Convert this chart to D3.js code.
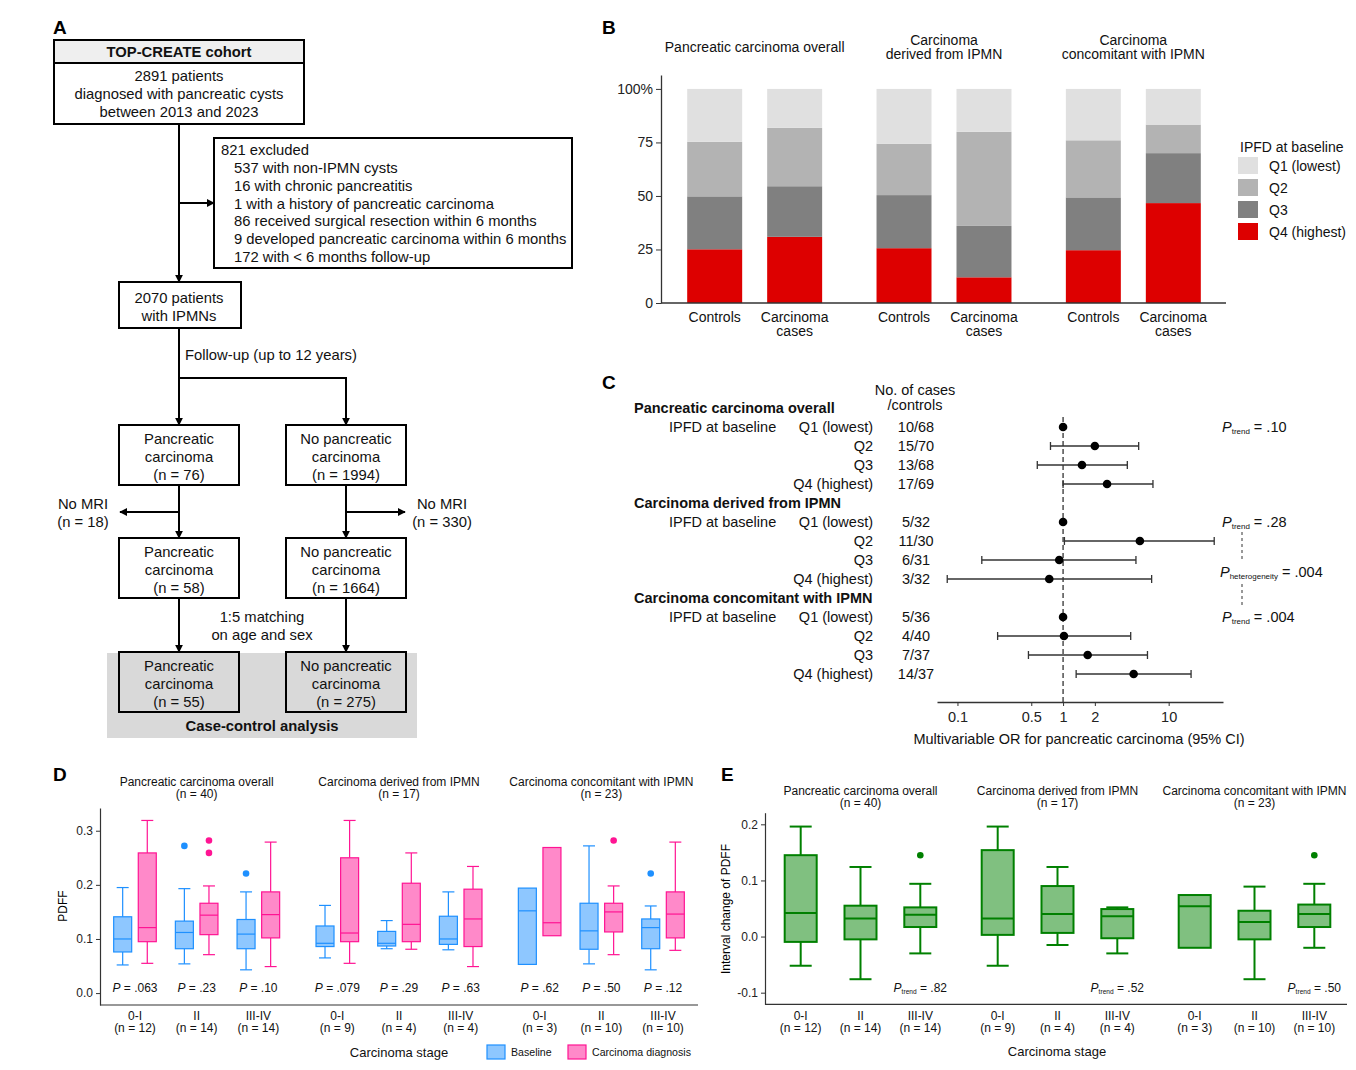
<!DOCTYPE html>
<html lang="en">
<head>
<meta charset="utf-8">
<title>IPFD and pancreatic carcinoma</title>
<script src="https://cdnjs.cloudflare.com/ajax/libs/d3/7.8.5/d3.min.js"></script>
<style>
  body { margin: 0; background: #fff; }
  svg { display: block; font-family: "Liberation Sans", Arial, Helvetica, sans-serif; }
  .axis text { fill: #222; }
  .axis path, .axis line { stroke: #333; }
</style>
</head>
<body>
<svg id="fig" width="1356" height="1070"></svg>
<script>
// ---------- Panel A: flowchart text ----------
const cohortTitle = "TOP-CREATE cohort";
const cohortText = ["2891 patients", "diagnosed with pancreatic cysts", "between 2013 and 2023"];
const excludedTitle = "821 excluded";
const excludedReasons = [
    "537 with non-IPMN cysts",
    "16 with chronic pancreatitis",
    "1 with a history of pancreatic carcinoma",
    "86 received surgical resection within 6 months",
    "9 developed pancreatic carcinoma within 6 months",
    "172 with < 6 months follow-up"
];
const ipmnText = ["2070 patients", "with IPMNs"];
const caseN = [76, 58, 55];
const controlN = [1994, 1664, 275];
const noMriN = [18, 330];

// ---------- Panel B: IPFD quartile counts per bar ----------
const bFacets = ["Pancreatic carcinoma overall", "Carcinoma|derived from IPMN", "Carcinoma|concomitant with IPMN"];
const bGroups = ["Controls", "Carcinoma|cases"];
const quartiles = ["Q1 (lowest)", "Q2", "Q3", "Q4 (highest)"];
const quartileColors = ["#e0e0e0", "#b3b3b3", "#808080", "#dd0000"];
const q1Counts = [68, 10, 32, 5, 36, 5];
const q2Counts = [70, 15, 30, 11, 40, 4];
const q3Counts = [68, 13, 31, 6, 37, 7];
const q4Counts = [69, 17, 32, 3, 37, 14];

// ---------- Panel C: forest plot ----------
const cGroups = ["Pancreatic carcinoma overall", "Carcinoma derived from IPMN", "Carcinoma concomitant with IPMN"];
const cCases = ["10/68", "15/70", "13/68", "17/69", "5/32", "11/30", "6/31", "3/32", "5/36", "4/40", "7/37", "14/37"];
const cOR    = [1, 2.0, 1.51, 2.61, 1, 5.34, 0.92, 0.74, 1, 1.02, 1.71, 4.66];
const cLower = [null, 0.76, 0.57, 1.0, null, 1.03, 0.17, 0.08, null, 0.24, 0.47, 1.33];
const cUpper = [null, 5.2, 4.06, 7.1, null, 27, 4.9, 6.9, null, 4.37, 6.3, 16.3];
const cPtrend = [".10", ".28", ".004"];
const cPhet = ".004";
const cTicks = [0.1, 0.5, 1, 2, 10];

// ---------- Panel D: PDFF by stage ----------
const dFacets = ["Pancreatic carcinoma overall", "Carcinoma derived from IPMN", "Carcinoma concomitant with IPMN"];
const dFacetN = [40, 17, 23];
const stages = ["0-I", "II", "III-IV"];
const stageN = [12, 14, 14, 9, 4, 4, 3, 10, 10];
const baseLow  = [0.052, 0.054, 0.043, 0.065, 0.082, 0.080, 0.053, 0.054, 0.043];
const baseQ1   = [0.076, 0.082, 0.082, 0.086, 0.087, 0.090, 0.053, 0.081, 0.082];
const baseMed  = [0.100, 0.112, 0.109, 0.092, 0.092, 0.100, 0.152, 0.115, 0.121];
const baseQ3   = [0.141, 0.133, 0.136, 0.124, 0.114, 0.142, 0.194, 0.166, 0.137];
const baseHigh = [0.195, 0.193, 0.187, 0.162, 0.134, 0.187, 0.194, 0.272, 0.161];
const baseOut  = [[], [0.272], [0.221], [], [], [], [], [], [0.221]];
const diagLow  = [0.055, 0.071, 0.049, 0.055, 0.081, 0.049, 0.106, 0.071, 0.079];
const diagQ1   = [0.095, 0.108, 0.102, 0.095, 0.095, 0.086, 0.106, 0.113, 0.102];
const diagMed  = [0.121, 0.144, 0.145, 0.111, 0.127, 0.137, 0.130, 0.150, 0.146];
const diagQ3   = [0.259, 0.166, 0.187, 0.250, 0.203, 0.192, 0.269, 0.166, 0.187];
const diagHigh = [0.319, 0.198, 0.279, 0.319, 0.259, 0.234, 0.269, 0.198, 0.279];
const diagOut  = [[], [0.282, 0.259], [], [], [], [], [], [0.282], []];
const dP = [".063", ".23", ".10", ".079", ".29", ".63", ".62", ".50", ".12"];
const dTicks = [0.0, 0.1, 0.2, 0.3];

// ---------- Panel E: interval change of PDFF ----------
const eLow  = [-0.052, -0.076, -0.030, -0.052, -0.015, -0.030, -0.020, -0.076, -0.020];
const eQ1   = [-0.0095, -0.005, 0.017, 0.003, 0.0065, -0.003, -0.020, -0.005, 0.017];
const eMed  = [0.042, 0.032, 0.039, 0.032, 0.040, 0.036, 0.054, 0.026, 0.040];
const eQ3   = [0.145, 0.055, 0.052, 0.154, 0.090, 0.049, 0.074, 0.046, 0.057];
const eHigh = [0.196, 0.124, 0.094, 0.196, 0.124, 0.052, 0.074, 0.089, 0.094];
const eOut  = [[], [], [0.145], [], [], [], [], [], [0.145]];
const ePtrend = [".82", ".52", ".50"];
const eTicks = [-0.1, 0.0, 0.1, 0.2];

const svg = d3.select('#fig');
svg.append('rect').attr('width', 1356).attr('height', 1070).attr('fill', '#fff');

// text helper: "|" splits lines
function addText(g, x, y, str, opts = {}) {
    const size = opts.size || 13;
    const lh = opts.lineHeight || size * 1.1;
    const parts = str.split('|');
    const t = g.append('text')
        .attr('x', x).attr('y', y)
        .attr('font-size', size)
        .attr('text-anchor', opts.anchor || 'middle')
        .attr('dominant-baseline', 'central')
        .attr('font-weight', opts.weight || 'normal')
        .attr('fill', opts.fill || '#111');
    parts.forEach((p, i) => {
        t.append('tspan').attr('x', x).attr('dy', i === 0 ? 0 : lh).text(p);
    });
    return t;
}

function pLabel(g, x, y, sub, val, size, anchor) {
    const t = g.append('text')
        .attr('x', x).attr('y', y)
        .attr('font-size', size)
        .attr('text-anchor', anchor || 'start')
        .attr('dominant-baseline', 'central')
        .attr('fill', '#111');
    t.append('tspan').attr('font-style', 'italic').text('P');
    if (sub) {
        t.append('tspan').attr('font-size', size * 0.55).attr('dy', size * 0.25).text(sub);
        t.append('tspan').attr('dy', -size * 0.25).text(' = ' + val);
    } else {
        t.append('tspan').text(' = ' + val);
    }
}

function panelLetter(x, y, s) {
    svg.append('text').attr('x', x).attr('y', y).attr('font-size', 19)
        .attr('font-weight', 'bold').text(s);
}

const hyphenFmt = d => d3.format('.1f')(d).replace('\u2212', '-');

// ================= Panel A =================
(function drawFlow() {
    const g = svg.append('g');
    svg.append('defs').append('marker')
        .attr('id', 'arr').attr('viewBox', '0 0 10 10')
        .attr('refX', 9).attr('refY', 5)
        .attr('markerUnits', 'userSpaceOnUse')
        .attr('markerWidth', 8).attr('markerHeight', 8)
        .attr('orient', 'auto')
        .append('path').attr('d', 'M0,0 L10,5 L0,10 Z').attr('fill', '#000');

    const fs = 14.8;
    const box = (x, y, w, h, fill) => g.append('rect')
        .attr('x', x).attr('y', y).attr('width', w).attr('height', h)
        .attr('fill', fill || '#fff').attr('stroke', '#000').attr('stroke-width', 2);
    const line = (pts, arrow) => g.append('path')
        .attr('d', d3.line()(pts)).attr('fill', 'none')
        .attr('stroke', '#000').attr('stroke-width', 2)
        .attr('marker-end', arrow ? 'url(#arr)' : null);

    const L = 179, R = 346;

    // gray case-control background
    g.append('rect').attr('x', 107).attr('y', 653).attr('width', 310).attr('height', 85).attr('fill', '#d9d9d9');

    // cohort box
    box(54, 40, 250, 84);
    g.append('rect').attr('x', 55).attr('y', 41).attr('width', 248).attr('height', 22).attr('fill', '#efefef');
    line([[54, 63], [304, 63]]);
    addText(g, L, 52, cohortTitle, { size: fs, weight: 'bold' });
    cohortText.forEach((s, i) => addText(g, L, 76 + i * 18, s, { size: fs }));

    line([[L, 124], [L, 282]], true);
    line([[L, 203], [214, 203]], true);

    // exclusion box
    box(214, 138, 358, 130);
    addText(g, 221, 150, excludedTitle, { size: fs, anchor: 'start' });
    excludedReasons.forEach((s, i) => addText(g, 234, 168 + i * 17.8, s, { size: fs, anchor: 'start' }));

    // IPMN box
    box(119, 282, 122, 46);
    ipmnText.forEach((s, i) => addText(g, L, 298 + i * 18, s, { size: fs }));

    line([[L, 328], [L, 425]], true);
    line([[L, 378], [R, 378], [R, 425]], true);
    addText(g, 185, 355, 'Follow-up (up to 12 years)', { size: fs, anchor: 'start' });

    const tops = [425, 538, 652];
    tops.forEach((ty, i) => {
        const fill = i === 2 ? '#d9d9d9' : '#fff';
        box(119, ty, 120, 60, fill);
        box(286, ty, 120, 60, fill);
        addText(g, L, ty + 14, 'Pancreatic|carcinoma|(n = ' + caseN[i] + ')', { size: fs, lineHeight: 18 });
        addText(g, R, ty + 14, 'No pancreatic|carcinoma|(n = ' + controlN[i] + ')', { size: fs, lineHeight: 18 });
    });

    line([[L, 485], [L, 538]], true);
    line([[R, 485], [R, 538]], true);
    line([[L, 512], [120, 512]], true);
    line([[R, 512], [405, 512]], true);
    addText(g, 83, 504, 'No MRI|(n = ' + noMriN[0] + ')', { size: fs, lineHeight: 18 });
    addText(g, 442, 504, 'No MRI|(n = ' + noMriN[1] + ')', { size: fs, lineHeight: 18 });

    line([[L, 598], [L, 652]], true);
    line([[R, 598], [R, 652]], true);
    addText(g, 262, 617, '1:5 matching|on age and sex', { size: fs, lineHeight: 18 });
    addText(g, 262, 726, 'Case-control analysis', { size: fs, weight: 'bold' });
})();

// ================= Panel B =================
(function drawB() {
    const g = svg.append('g');
    const fs = 14;
    const rows = [];
    bFacets.forEach((f, i) => bGroups.forEach((grp, j) => {
        const k = i * 2 + j;
        rows.push({ facet: f, group: grp,
            [quartiles[0]]: q1Counts[k], [quartiles[1]]: q2Counts[k],
            [quartiles[2]]: q3Counts[k], [quartiles[3]]: q4Counts[k] });
    }));
    const color = d3.scaleOrdinal().domain(quartiles).range(quartileColors);
    const series = d3.stack().keys(quartiles.slice().reverse()).offset(d3.stackOffsetExpand)(rows);

    const x0 = d3.scaleBand().domain(bFacets).range([660, 1228]);
    const x1 = d3.scaleBand().domain(bGroups).range([0, x0.bandwidth()]).paddingInner(0.3125).paddingOuter(0.34);
    const y = d3.scaleLinear().domain([0, 1.065]).range([303, 75]);

    g.selectAll('g.layer').data(series).join('g')
        .attr('fill', d => color(d.key))
        .selectAll('rect').data(d => d).join('rect')
        .attr('x', d => x0(d.data.facet) + x1(d.data.group))
        .attr('width', x1.bandwidth())
        .attr('y', d => y(d[1]))
        .attr('height', d => y(d[0]) - y(d[1]));

    const ya = g.append('g').attr('class', 'axis').attr('transform', 'translate(661,0)')
        .call(d3.axisLeft(y).tickValues([0, 0.25, 0.5, 0.75, 1])
            .tickFormat(d => d === 1 ? '100%' : d3.format('d')(d * 100))
            .tickSize(5).tickSizeOuter(0));
    ya.selectAll('text').attr('font-size', fs).attr('font-family', null);
    ya.select('.domain').attr('stroke-width', 1.3);

    g.append('line').attr('x1', 661).attr('x2', 1226).attr('y1', y(0)).attr('y2', y(0))
        .attr('stroke', '#333').attr('stroke-width', 1.3);

    bFacets.forEach(f => {
        const cx = x0(f) + x0.bandwidth() / 2;
        const two = f.includes('|');
        addText(g, cx, two ? 40 : 47, f, { size: fs, lineHeight: 14 });
        bGroups.forEach(grp => {
            addText(g, x0(f) + x1(grp) + x1.bandwidth() / 2, 317, grp, { size: fs, lineHeight: 14 });
        });
    });

    // legend
    addText(g, 1240, 147, 'IPFD at baseline', { size: fs, anchor: 'start' });
    quartiles.forEach((q, i) => {
        g.append('rect').attr('x', 1238).attr('y', 157 + i * 22).attr('width', 20).attr('height', 17).attr('fill', color(q));
        addText(g, 1269, 166 + i * 22, q, { size: fs, anchor: 'start' });
    });
})();

// ================= Panel C =================
(function drawC() {
    const g = svg.append('g');
    const fs = 14.5;
    const rowKeys = [];
    cGroups.forEach((grp, i) => {
        rowKeys.push('h' + i);
        quartiles.forEach(q => rowKeys.push(i + '|' + q));
    });
    const yRow = d3.scalePoint().domain(rowKeys).range([408, 674]);
    const x = d3.scaleLog().domain([0.064, 32.7]).range([937, 1223]);

    addText(g, 915, 390, 'No. of cases|/controls', { size: fs, lineHeight: 15 });

    const items = [];
    cGroups.forEach((grp, i) => {
        addText(g, 634, yRow('h' + i), grp, { size: fs, anchor: 'start', weight: 'bold' });
        quartiles.forEach((q, j) => {
            const k = i * 4 + j;
            const yy = yRow(i + '|' + q);
            if (j === 0) addText(g, 669, yy, 'IPFD at baseline', { size: fs, anchor: 'start' });
            addText(g, 873, yy, q, { size: fs, anchor: 'end' });
            addText(g, 916, yy, cCases[k], { size: fs });
            items.push({ y: yy, or: cOR[k], lo: cLower[k], hi: cUpper[k] });
        });
        pLabel(g, 1222, yRow(i + '|' + quartiles[0]), 'trend', cPtrend[i], fs);
    });
    pLabel(g, 1220, 572, 'heterogeneity', cPhet, fs);
    g.append('line').attr('x1', 1242).attr('x2', 1242).attr('y1', 532).attr('y2', 560)
        .attr('stroke', '#333').attr('stroke-dasharray', '3,3');
    g.append('line').attr('x1', 1242).attr('x2', 1242).attr('y1', 584).attr('y2', 608)
        .attr('stroke', '#333').attr('stroke-dasharray', '3,3');

    // reference line at OR = 1
    g.append('line').attr('x1', x(1)).attr('x2', x(1)).attr('y1', 417).attr('y2', 702)
        .attr('stroke', '#222').attr('stroke-dasharray', '5,3').attr('stroke-width', 1.2);

    const ci = items.filter(d => d.lo != null);
    g.selectAll('line.ci').data(ci).join('line').attr('class', 'ci')
        .attr('x1', d => x(d.lo)).attr('x2', d => x(d.hi))
        .attr('y1', d => d.y).attr('y2', d => d.y)
        .attr('stroke', '#333').attr('stroke-width', 1.3);
    ['lo', 'hi'].forEach(end => {
        g.selectAll('line.cap' + end).data(ci).join('line').attr('class', 'cap' + end)
            .attr('x1', d => x(d[end])).attr('x2', d => x(d[end]))
            .attr('y1', d => d.y - 4).attr('y2', d => d.y + 4)
            .attr('stroke', '#333').attr('stroke-width', 1.3);
    });
    g.selectAll('circle.pt').data(items).join('circle').attr('class', 'pt')
        .attr('cx', d => x(d.or)).attr('cy', d => d.y).attr('r', 4.3).attr('fill', '#000');

    const xa = g.append('g').attr('class', 'axis').attr('transform', 'translate(0,702)')
        .call(d3.axisBottom(x).tickValues(cTicks).tickFormat(d3.format('~g')).tickSize(4).tickPadding(6).tickSizeOuter(0));
    xa.selectAll('text').attr('font-size', fs).attr('font-family', null);
    xa.select('.domain').attr('stroke-width', 1.3);
    addText(g, 1079, 739, 'Multivariable OR for pancreatic carcinoma (95% CI)', { size: fs });
})();

// ================= shared box drawing =================
function drawBox(g, cx, st, y, o) {
    const half = o.w / 2;
    const cap = o.capW / 2;
    const s = { stroke: o.stroke, 'stroke-width': o.lw };
    const ln = (x1, y1, x2, y2) => {
        const l = g.append('line').attr('x1', x1).attr('y1', y1).attr('x2', x2).attr('y2', y2);
        Object.entries(s).forEach(([k, v]) => l.attr(k, v));
    };
    if (st.high > st.q3) { ln(cx, y(st.q3), cx, y(st.high)); ln(cx - cap, y(st.high), cx + cap, y(st.high)); }
    if (st.low < st.q1) { ln(cx, y(st.q1), cx, y(st.low)); ln(cx - cap, y(st.low), cx + cap, y(st.low)); }
    g.append('rect').attr('x', cx - half).attr('width', o.w)
        .attr('y', y(st.q3)).attr('height', y(st.q1) - y(st.q3))
        .attr('fill', o.fill).attr('stroke', o.stroke).attr('stroke-width', o.lw);
    ln(cx - half, y(st.med), cx + half, y(st.med));
    st.out.forEach(v => g.append('circle').attr('cx', cx).attr('cy', y(v)).attr('r', o.r).attr('fill', o.stroke));
}

// ================= Panel D =================
(function drawD() {
    const g = svg.append('g');
    const fs = 12;
    const left = 100, right = 698, top = 808, bottom = 1005;
    const x0 = d3.scaleBand().domain(dFacets).range([95.5, 702.5]);
    const x1 = d3.scalePoint().domain(stages).range([0, x0.bandwidth()]).padding(0.64);
    const y = d3.scaleLinear().domain([-0.022, 0.342]).range([bottom, top]);
    const dodge = 12.3;
    const blue = { stroke: '#1e90ff', fill: '#8ec7ff', w: 18, capW: 12, lw: 1.2, r: 3.3 };
    const pink = { stroke: '#ff1493', fill: '#ff89c9', w: 18, capW: 12, lw: 1.2, r: 3.3 };

    const ya = g.append('g').attr('class', 'axis').attr('transform', `translate(${left},0)`)
        .call(d3.axisLeft(y).tickValues(dTicks).tickFormat(hyphenFmt).tickSize(4).tickSizeOuter(0));
    ya.selectAll('text').attr('font-size', fs).attr('font-family', null);
    ya.select('.domain').attr('stroke-width', 1.2);
    g.append('line').attr('x1', left).attr('x2', right).attr('y1', bottom).attr('y2', bottom)
        .attr('stroke', '#333').attr('stroke-width', 1.2);

    dFacets.forEach((f, i) => {
        addText(g, x0(f) + x0.bandwidth() / 2, 782, f + '|(n = ' + dFacetN[i] + ')', { size: fs, lineHeight: 12 });
        stages.forEach((s, j) => {
            const k = i * 3 + j;
            const cx = x0(f) + x1(s);
            drawBox(g, cx - dodge, { low: baseLow[k], q1: baseQ1[k], med: baseMed[k], q3: baseQ3[k], high: baseHigh[k], out: baseOut[k] }, y, blue);
            drawBox(g, cx + dodge, { low: diagLow[k], q1: diagQ1[k], med: diagMed[k], q3: diagQ3[k], high: diagHigh[k], out: diagOut[k] }, y, pink);
            pLabel(g, cx, 988, null, dP[k], fs, 'middle');
            addText(g, cx, 1016, s + '|(n = ' + stageN[k] + ')', { size: fs, lineHeight: 12 });
        });
    });

    g.append('text').attr('transform', 'translate(63,906) rotate(-90)')
        .attr('text-anchor', 'middle').attr('dominant-baseline', 'central')
        .attr('font-size', fs).text('PDFF');

    addText(g, 399, 1052, 'Carcinoma stage', { size: 13 });
    g.append('rect').attr('x', 487).attr('y', 1045).attr('width', 18).attr('height', 14)
        .attr('fill', blue.fill).attr('stroke', blue.stroke).attr('stroke-width', 1.2);
    addText(g, 511, 1052, 'Baseline', { size: 10.6, anchor: 'start' });
    g.append('rect').attr('x', 568).attr('y', 1045).attr('width', 18).attr('height', 14)
        .attr('fill', pink.fill).attr('stroke', pink.stroke).attr('stroke-width', 1.2);
    addText(g, 592, 1052, 'Carcinoma diagnosis', { size: 10.6, anchor: 'start' });
})();

// ================= Panel E =================
(function drawE() {
    const g = svg.append('g');
    const fs = 12;
    const left = 765, right = 1347, top = 812.7, bottom = 1004.3;
    const x0 = d3.scaleBand().domain(dFacets).range([762, 1353]);
    const x1 = d3.scalePoint().domain(stages).range([0, x0.bandwidth()]).padding(0.647);
    const y = d3.scaleLinear().domain([-0.1207, 0.2207]).range([bottom, top]);
    const green = { stroke: '#008000', fill: '#80c080', w: 32, capW: 22, lw: 2, r: 3.3 };

    const ya = g.append('g').attr('class', 'axis').attr('transform', `translate(${left},0)`)
        .call(d3.axisLeft(y).tickValues(eTicks).tickFormat(hyphenFmt).tickSize(4).tickSizeOuter(0));
    ya.selectAll('text').attr('font-size', fs).attr('font-family', null);
    ya.select('.domain').attr('stroke-width', 1.2);
    g.append('line').attr('x1', left).attr('x2', right).attr('y1', bottom).attr('y2', bottom)
        .attr('stroke', '#333').attr('stroke-width', 1.2);

    dFacets.forEach((f, i) => {
        addText(g, x0(f) + x0.bandwidth() / 2, 791, f + '|(n = ' + dFacetN[i] + ')', { size: fs, lineHeight: 12 });
        stages.forEach((s, j) => {
            const k = i * 3 + j;
            const cx = x0(f) + x1(s);
            drawBox(g, cx, { low: eLow[k], q1: eQ1[k], med: eMed[k], q3: eQ3[k], high: eHigh[k], out: eOut[k] }, y, green);
            addText(g, cx, 1016, s + '|(n = ' + stageN[k] + ')', { size: fs, lineHeight: 12 });
        });
        pLabel(g, x0(f) + x1(stages[2]), 988, 'trend', ePtrend[i], fs, 'middle');
    });

    g.append('text').attr('transform', 'translate(726,909) rotate(-90)')
        .attr('text-anchor', 'middle').attr('dominant-baseline', 'central')
        .attr('font-size', fs).text('Interval change of PDFF');
    addText(g, 1057, 1051, 'Carcinoma stage', { size: 13 });
})();

panelLetter(53, 34, 'A');
panelLetter(602, 34, 'B');
panelLetter(602, 389, 'C');
panelLetter(53, 781, 'D');
panelLetter(721, 781, 'E');
</script>
</body>
</html>
